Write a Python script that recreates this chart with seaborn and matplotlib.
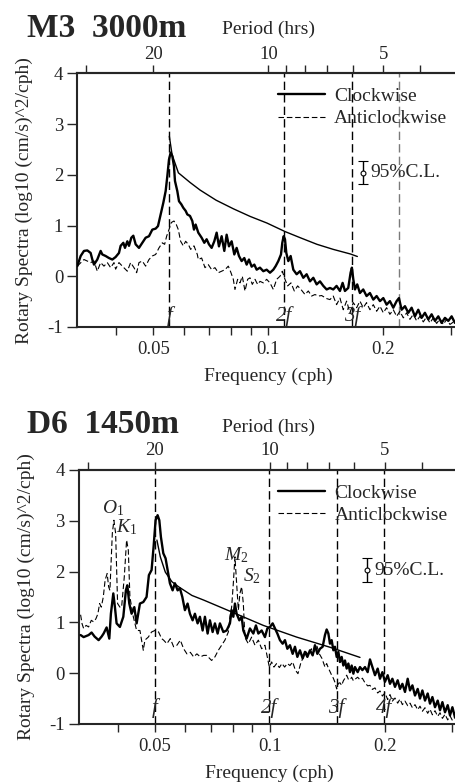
import numpy as np
import pandas as pd
import seaborn as sns
from matplotlib import pyplot as plt
from matplotlib.ticker import NullFormatter

sns.set_style('ticks')
plt.rcParams['font.family'] = 'Liberation Serif'
plt.rcParams['mathtext.fontset'] = 'custom'
plt.rcParams['mathtext.rm'] = 'Liberation Serif'
plt.rcParams['mathtext.it'] = 'Liberation Serif:italic'
plt.rcParams['axes.unicode_minus'] = False

# ---------------- M3 3000m ----------------
m3_cw_freq = [0.03162, 0.03227, 0.03292, 0.03359, 0.03427, 0.03462, 0.03497, 0.03567, 0.03640, 0.03677,
              0.03751, 0.03827, 0.03905, 0.03984, 0.04065, 0.04106, 0.04173, 0.04215, 0.04275, 0.04318,
              0.04379, 0.04432, 0.04495, 0.04586, 0.04679, 0.04774, 0.04871, 0.04970, 0.05071, 0.05143,
              0.05226, 0.05311, 0.05386, 0.05440, 0.05495, 0.05551, 0.05607, 0.05663, 0.05697, 0.05778,
              0.05837, 0.05919, 0.05991, 0.06076, 0.06137, 0.06237, 0.06325, 0.06389, 0.06453,
              0.06557, 0.06691, 0.06799, 0.06895, 0.06993, 0.07106, 0.07221, 0.07324, 0.07427, 0.07548,
              0.07670, 0.07779, 0.07889, 0.08017, 0.08147, 0.08262, 0.08379, 0.08515, 0.08653, 0.08776,
              0.08900, 0.09044, 0.09191, 0.09321, 0.09510, 0.09703, 0.09900, 0.10101, 0.10306, 0.10452,
              0.10621, 0.10793, 0.10880, 0.10968, 0.11057, 0.11146, 0.11281, 0.11441, 0.11626, 0.11862,
              0.12103, 0.12348, 0.12599, 0.12855, 0.13116, 0.13382, 0.13653, 0.13931, 0.14213,
              0.1450, 0.1479, 0.1509, 0.1540, 0.1565, 0.1587, 0.1619, 0.1642, 0.1655, 0.1669,
              0.1686, 0.1709, 0.1737, 0.1772, 0.1808, 0.1845, 0.1883, 0.1921, 0.1960, 0.2000,
              0.2040, 0.2081, 0.2124, 0.2167, 0.2198, 0.2233, 0.2279, 0.2325, 0.2372, 0.2420,
              0.2469, 0.2519, 0.2570, 0.2623, 0.2676, 0.2730, 0.2786, 0.2842, 0.2900, 0.2959,
              0.3019, 0.3080]
m3_cw = [0.20, 0.40, 0.50, 0.51, 0.46, 0.33, 0.23, 0.33, 0.50, 0.43,
         0.40, 0.36, 0.33, 0.38, 0.46, 0.60, 0.66, 0.56, 0.69, 0.60,
         0.76, 0.80, 0.63, 0.56, 0.66, 0.76, 0.79, 0.92, 0.94, 0.99,
         1.22, 1.45, 1.68, 1.97, 2.30, 2.44, 2.37, 2.17, 1.88, 1.68,
         1.48, 1.42, 1.35, 1.29, 1.22, 1.19, 1.09, 0.92, 1.02,
         0.86, 0.76, 0.66, 0.73, 0.63, 0.56, 0.69, 0.86, 0.59, 0.79,
         0.50, 0.82, 0.59, 0.69, 0.43, 0.56, 0.40, 0.30, 0.36, 0.23,
         0.33, 0.19, 0.23, 0.13, 0.17, 0.10, 0.13, 0.07, 0.13, 0.20,
         0.30, 0.43, 0.66, 0.79, 0.73, 0.46, 0.30, 0.40, 0.13, 0.04,
         0.10, -0.03, 0.04, -0.10, -0.03, -0.16, -0.10, -0.19, -0.26,
         -0.23, -0.26, -0.19, -0.29, -0.13, -0.29, -0.23, 0.07, 0.17, -0.06,
         -0.26, -0.16, -0.33, -0.26, -0.39, -0.33, -0.46, -0.39, -0.49, -0.43,
         -0.56, -0.49, -0.62, -0.49, -0.43, -0.66, -0.59, -0.72, -0.62, -0.79,
         -0.66, -0.82, -0.72, -0.85, -0.75, -0.88, -0.79, -0.92, -0.82, -0.88,
         -0.79, -0.92]

m3_acw_freq = [0.03162, 0.03292, 0.03427, 0.03497, 0.03567, 0.03640, 0.03714, 0.03789, 0.03866, 0.03945,
               0.03984, 0.04065, 0.04148, 0.04275, 0.04361, 0.04450, 0.04522, 0.04586, 0.04679, 0.04774,
               0.04871, 0.04970, 0.05071, 0.05174, 0.05279, 0.05353, 0.05418, 0.05495, 0.05573, 0.05663,
               0.05743, 0.05813, 0.05895, 0.05991, 0.06076, 0.06174, 0.06262, 0.06389, 0.06519,
               0.06557, 0.06691, 0.06827, 0.06965, 0.07106, 0.07250, 0.07398, 0.07548, 0.07701, 0.07857,
               0.07985, 0.08098, 0.08179, 0.08312, 0.08430, 0.08549, 0.08688, 0.08829, 0.08954, 0.09080,
               0.09228, 0.09377, 0.09510, 0.09703, 0.09900, 0.10101, 0.10306, 0.10515, 0.10728, 0.10880,
               0.11057, 0.11236, 0.11464, 0.11697, 0.11934, 0.12176, 0.12473, 0.12726, 0.12985, 0.13248,
               0.13517, 0.13791, 0.14213,
               0.1450, 0.1479, 0.1509, 0.1540, 0.1571, 0.1603, 0.1636, 0.1669, 0.1703, 0.1737,
               0.1772, 0.1808, 0.1845, 0.1883, 0.1921, 0.1960, 0.2000, 0.2040, 0.2081, 0.2124,
               0.2167, 0.2211, 0.2256, 0.2302, 0.2348, 0.2396, 0.2445, 0.2494, 0.2545, 0.2596,
               0.2649, 0.2703, 0.2758, 0.2814, 0.2871, 0.2929, 0.2989, 0.3080]
m3_acw = [0.20, 0.33, 0.27, 0.30, 0.10, 0.27, 0.20, 0.27, 0.17, 0.27,
          0.14, 0.27, 0.20, 0.10, 0.27, 0.17, 0.07, 0.27, 0.30, 0.20,
          0.33, 0.40, 0.43, 0.56, 0.66, 0.63, 0.79, 0.92, 1.06, 1.09,
          1.02, 0.92, 0.69, 0.60, 0.69, 0.63, 0.53, 0.60, 0.43,
          0.33, 0.36, 0.17, 0.23, 0.13, 0.17, 0.07, 0.10, 0.13, 0.20,
          0.07, -0.06, -0.26, -0.06, -0.13, 0.00, -0.29, -0.06, -0.03, -0.16,
          -0.06, -0.16, -0.10, -0.13, -0.06, -0.13, -0.26, -0.06, 0.00, 0.10,
          -0.06, -0.19, -0.13, -0.29, -0.19, -0.26, -0.36, -0.29, -0.39, -0.36,
          -0.39, -0.38, -0.44,
          -0.46, -0.39, -0.56, -0.43, -0.66, -0.49, -0.72, -0.52, -0.62, -0.49,
          -0.62, -0.52, -0.66, -0.56, -0.69, -0.59, -0.72, -0.62, -0.75, -0.66,
          -0.79, -0.69, -0.82, -0.72, -0.85, -0.75, -0.88, -0.79, -0.90, -0.80,
          -0.92, -0.82, -0.93, -0.84, -0.95, -0.85, -0.95, -0.88]

m3_ref_freq = [0.05507, 0.05598, 0.05816, 0.06240, 0.06629, 0.07301, 0.08105, 0.08965,
               0.09916, 0.11074, 0.12124, 0.13410, 0.14797, 0.16396, 0.17104]
m3_ref = [2.76, 2.40, 2.04, 1.85, 1.70, 1.50, 1.33, 1.18, 1.05, 0.88, 0.76, 0.63, 0.53, 0.44, 0.39]

m3_inertial = 0.0551
m3_harm_labels = ['f', '2f', '3f', '']
m3_cl = (0.1773, 2.04, 0.225)

# ---------------- D6 1450m ----------------
d6_tail_freq = [0.13955, 0.14099, 0.14245, 0.14383, 0.14531, 0.14680, 0.14823, 0.14976, 0.15131, 0.15277,
                0.15435, 0.15594, 0.15746, 0.15908, 0.16073, 0.16228, 0.16396, 0.16565, 0.16726, 0.17000,
                0.17239, 0.17491, 0.17767, 0.18058, 0.18311, 0.18579, 0.18873, 0.19183, 0.19451, 0.19735,
                0.20047, 0.20376, 0.20661, 0.20963, 0.21295, 0.21644, 0.21947, 0.22268, 0.22620, 0.22991,
                0.23313, 0.23654, 0.24028, 0.24422, 0.24764, 0.25126, 0.25523, 0.25942, 0.26305, 0.26690,
                0.27112, 0.27557, 0.27943, 0.28351, 0.28799, 0.29272, 0.29681, 0.30114, 0.30591, 0.30903]

d6_cw_freq = [0.03193, 0.03252, 0.03351, 0.03412, 0.03475, 0.03560, 0.03625, 0.03669, 0.03736, 0.03797,
              0.03834, 0.03890, 0.03928, 0.03968, 0.04048, 0.04132, 0.04197, 0.04233, 0.04284, 0.04344,
              0.04416, 0.04478, 0.04568, 0.04662, 0.04755, 0.04822, 0.04901, 0.04961, 0.05021, 0.05082,
              0.05135, 0.05185, 0.05260, 0.05333, 0.05398, 0.05474, 0.05564, 0.05642, 0.05735, 0.05815,
              0.05900, 0.05993, 0.06091, 0.06177, 0.06278, 0.06366, 0.06470, 0.06561, 0.06669, 0.06762,
              0.06873, 0.06969, 0.07084, 0.07183, 0.07301, 0.07403, 0.07557, 0.07709, 0.07864, 0.07945,
              0.08027, 0.08105, 0.08188, 0.08323, 0.08440, 0.08526,
              0.08698, 0.08873, 0.09057, 0.09200, 0.09335, 0.09523, 0.09714, 0.09856, 0.10012, 0.10177,
              0.10319, 0.10470, 0.10635, 0.10810, 0.10961, 0.11121, 0.11297, 0.11483, 0.11643, 0.11813,
              0.12000, 0.12197, 0.12368, 0.12549, 0.12747, 0.12957, 0.13137, 0.13329, 0.13540, 0.13762] + d6_tail_freq
d6_cw = [0.75, 0.71, 0.75, 0.80, 0.72, 0.65, 0.72, 0.78, 0.90, 0.68,
         1.17, 1.57, 1.30, 0.98, 0.91, 1.11, 1.63, 1.73, 1.37, 1.17,
         1.30, 0.98, 1.37, 1.40, 1.50, 1.93, 2.03, 2.49, 3.01, 3.11,
         3.01, 2.68, 2.36, 2.26, 2.03, 1.77, 1.63, 1.77, 1.63, 1.67,
         1.50, 1.24, 1.37, 1.17, 1.04, 1.17, 0.98, 1.11, 0.84, 1.11,
         0.78, 1.04, 0.81, 0.98, 0.78, 0.98, 0.81, 0.84, 0.98, 1.24,
         1.11, 1.37, 1.17, 1.04, 1.11, 0.84,
         0.68, 0.88, 0.78, 0.94, 0.78, 0.84, 0.71, 0.88, 0.91, 0.98,
         0.88, 0.78, 0.65, 0.58, 0.65, 0.48, 0.55, 0.38, 0.52, 0.32,
         0.45, 0.29, 0.42, 0.32, 0.45, 0.35, 0.55, 0.38, 0.48, 0.52,
         0.75, 0.86, 0.78, 0.58, 0.65, 0.45, 0.52, 0.32, 0.42, 0.22,
         0.32, 0.15, 0.25, 0.09, 0.19, 0.02, 0.15, -0.01, 0.12, 0.02,
         0.12, 0.06, 0.12, 0.02, 0.27, 0.12, -0.04, 0.09, -0.11, 0.02,
         -0.17, -0.04, -0.21, -0.11, -0.27, -0.14, -0.31, -0.21, -0.37, -0.11,
         -0.34, -0.24, -0.44, -0.31, -0.50, -0.34, -0.54, -0.40, -0.60, -0.47,
         -0.67, -0.54, -0.73, -0.57, -0.77, -0.63, -0.83, -0.67, -0.87, -0.73]

d6_acw_freq = [0.03193, 0.03222, 0.03252, 0.03301, 0.03351, 0.03406, 0.03454, 0.03502, 0.03545, 0.03581,
               0.03618, 0.03662, 0.03702, 0.03748, 0.03782, 0.03811, 0.03867, 0.03904, 0.03945, 0.03992,
               0.04048, 0.04090, 0.04157, 0.04215, 0.04259, 0.04300, 0.04389, 0.04478, 0.04568, 0.04662,
               0.04707, 0.04805, 0.04901, 0.05000, 0.05113, 0.05207, 0.05270, 0.05375, 0.05487, 0.05598,
               0.05711, 0.05829, 0.05947, 0.06066, 0.06191, 0.06317, 0.06443, 0.06577, 0.06710, 0.06832,
               0.07041, 0.07183, 0.07332, 0.07480, 0.07630, 0.07789, 0.07864, 0.07945, 0.08027, 0.08105,
               0.08188, 0.08274, 0.08353, 0.08440, 0.08526,
               0.08609, 0.08788, 0.08964, 0.09145, 0.09335, 0.09523, 0.09714, 0.09856, 0.09975, 0.10115,
               0.10256, 0.10425, 0.10597, 0.10765, 0.10941, 0.11121, 0.11297, 0.11483, 0.11671, 0.11856,
               0.12051, 0.12248, 0.12443, 0.12648, 0.12855, 0.13058, 0.13272, 0.13490, 0.13704] + d6_tail_freq
d6_acw = [1.15, 0.97, 0.88, 0.94, 0.91, 1.04, 1.01, 1.07, 1.17, 1.37,
          1.30, 1.50, 1.83, 1.96, 1.70, 1.63, 2.75, 3.01, 2.75, 1.37,
          1.30, 1.30, 1.90, 2.62, 2.42, 1.50, 1.11, 0.84, 0.84, 0.45,
          0.65, 0.71, 0.81, 0.84, 0.81, 0.68, 0.65, 0.58, 0.68, 0.52,
          0.55, 0.65, 0.48, 0.38, 0.41, 0.32, 0.38, 0.32, 0.35, 0.35,
          0.25, 0.32, 0.45, 0.55, 0.65, 0.81, 1.11, 1.30, 1.77, 2.29,
          1.77, 1.24, 1.57, 1.70, 1.37,
          0.70, 0.58, 0.71, 0.55, 0.65, 0.48, 0.55, 0.32, 0.12, 0.22,
          0.12, 0.19, 0.11, 0.19, 0.12, 0.19, 0.15, 0.22, 0.06, -0.01,
          0.19, 0.32, 0.42, 0.35, 0.48, 0.42, 0.55, 0.38, 0.29,
          0.12, 0.19, 0.10, 0.03, -0.04, -0.10, -0.18, -0.31, -0.20, -0.19,
          -0.24, -0.15, -0.10, -0.04, -0.12, -0.13, -0.08, -0.15, -0.12, -0.08,
          -0.13, -0.10, -0.19, -0.25, -0.24, -0.32, -0.29, -0.39, -0.35, -0.45,
          -0.39, -0.52, -0.42, -0.55, -0.49, -0.59, -0.51, -0.62, -0.55, -0.64,
          -0.59, -0.68, -0.62, -0.72, -0.65, -0.75, -0.68, -0.79, -0.71, -0.82,
          -0.74, -0.85, -0.78, -0.89, -0.81, -0.92, -0.84, -0.93, -0.87, -0.94]

d6_ref_freq = [0.05061, 0.05166, 0.05324, 0.05540, 0.05770, 0.06251, 0.06704, 0.07864,
               0.09620, 0.11763, 0.14383, 0.17239]
d6_ref = [2.62, 2.29, 1.99, 1.80, 1.70, 1.53, 1.44, 1.22, 0.94, 0.71, 0.51, 0.31]

d6_inertial = 0.0499
d6_harm_labels = ['f', '2f', '3f', '4f']
d6_cl = (0.1795, 2.03, 0.23)

tide_names = [r'$O_{\mathit{1}}$', r'$K_{\mathit{1}}$', r'$M_{\mathit{2}}$', r'$S_{\mathit{2}}$']
tide_freq = [0.0389, 0.04215, 0.08188, 0.08964]
tide_level = [3.24, 2.88, 2.32, 1.90]

# axis ticks
freq_ticks = [0.05, 0.1, 0.2]
freq_minor = [0.04, 0.06, 0.07, 0.08, 0.09, 0.3]
period_major = [20, 10, 5]
period_minor = [30, 9, 8, 7, 6, 4]
y_ticks = [-1, 0, 1, 2, 3, 4]


def draw_panel(ax, cw_f, cw, acw_f, acw, ref_f, ref, f0, harm_labels, cl, label_y,
               legend_x, gray_last=False):
    ax.set_xscale('log')
    for n, lab in enumerate(harm_labels, start=1):
        col = '#7a7a7a' if (gray_last and n == len(harm_labels)) else 'k'
        ax.axvline(n * f0, color=col, lw=1.0, ls=(0, (6, 3)), zorder=1)
        if lab:
            ax.text(n * f0, label_y, lab, ha='center', va='center', fontsize=15,
                    style='italic', zorder=1.5)

    sns.lineplot(x=cw_f, y=cw, ax=ax, color='k', lw=1.7, label='Clockwise',
                 sort=False, estimator=None, errorbar=None, zorder=3)
    sns.lineplot(x=acw_f, y=acw, ax=ax, color='k', lw=0.8, ls=(0, (5, 2.5)),
                 label='Anticlockwise', sort=False, estimator=None, errorbar=None, zorder=2)
    sns.lineplot(x=ref_f, y=ref, ax=ax, color='k', lw=1.0,
                 sort=False, estimator=None, errorbar=None, zorder=3)

    cl_f, cl_mid, cl_half = cl
    ax.errorbar([cl_f], [cl_mid], yerr=[cl_half], fmt='o', ms=3.5, mfc='white', mec='k',
                mew=0.8, ecolor='k', elinewidth=1, capsize=3.5, capthick=1, zorder=4)
    ax.text(cl_f * 1.045, cl_mid, '95%C.L.', va='center', ha='left', fontsize=14)

    ax.set_xlim(10 ** -1.5, 10 ** -0.5)
    ax.set_ylim(-1, 4)
    ax.set_yticks(y_ticks)
    ax.set_yticklabels([str(t) for t in y_ticks])
    ax.set_xticks(freq_ticks)
    ax.set_xticklabels(['0.05', '0.1', '0.2'])
    ax.set_xticks(freq_minor, minor=True)
    ax.xaxis.set_minor_formatter(NullFormatter())
    ax.tick_params(axis='x', which='both', direction='out', length=5.8, width=1.0,
                   labelsize=13.5, pad=4.5)
    ax.tick_params(axis='y', which='both', direction='out', length=7.2, width=1.0,
                   labelsize=13.5, pad=3)
    for side in ['left', 'bottom', 'top']:
        ax.spines[side].set_linewidth(1.5)
    ax.spines['right'].set_visible(False)

    ax.set_xlabel('Frequency (cph)', fontsize=14)
    ax.xaxis.set_label_coords(0.5, -0.16)
    ax.set_ylabel('Rotary Spectra (log10 (cm/s)^2/cph)', fontsize=14)
    ax.yaxis.set_label_coords(-0.115, 0.5)

    handles, labels = ax.get_legend_handles_labels()
    ax.legend(handles[:2], labels[:2], loc='upper left', bbox_to_anchor=(legend_x, 0.945),
              frameon=False, fontsize=14, handlelength=2.4, handletextpad=0.5,
              labelspacing=0.25, borderpad=0, borderaxespad=0)

    top = ax.twiny()
    top.set_xscale('log')
    top.set_xlim(ax.get_xlim())
    top.set_xticks([1 / p for p in period_major])
    top.set_xticklabels([str(p) for p in period_major])
    top.set_xticks([1 / p for p in period_minor], minor=True)
    top.xaxis.set_minor_formatter(NullFormatter())
    top.tick_params(axis='x', which='both', direction='out', length=5.8, width=1.0,
                    labelsize=13.5, pad=2)
    for side in ['left', 'bottom', 'right']:
        top.spines[side].set_visible(False)
    top.spines['top'].set_linewidth(1.5)
    return top


fig = plt.figure(figsize=(4.55, 7.83), dpi=100)
ax1 = fig.add_axes([0.1699, 0.5824, 0.8396, 0.3238])
ax2 = fig.add_axes([0.1736, 0.0754, 0.8385, 0.3244])

draw_panel(ax1, m3_cw_freq, m3_cw, m3_acw_freq, m3_acw, m3_ref_freq, m3_ref,
           m3_inertial, m3_harm_labels, m3_cl, -0.78, 0.525, gray_last=True)
draw_panel(ax2, d6_cw_freq, d6_cw, d6_acw_freq, d6_acw, d6_ref_freq, d6_ref,
           d6_inertial, d6_harm_labels, d6_cl, -0.69, 0.522)

for name, fx, fy in zip(tide_names, tide_freq, tide_level):
    ax2.text(fx, fy, name, ha='center', va='center', fontsize=14)

fig.text(0.059, 0.953, 'M3  3000m', fontsize=24, fontweight='bold', va='baseline')
fig.text(0.488, 0.957, 'Period (hrs)', fontsize=14, va='baseline')
fig.text(0.059, 0.4466, 'D6  1450m', fontsize=24, fontweight='bold', va='baseline')
fig.text(0.488, 0.4479, 'Period (hrs)', fontsize=14, va='baseline')

fig.savefig('out.png', dpi=100)
